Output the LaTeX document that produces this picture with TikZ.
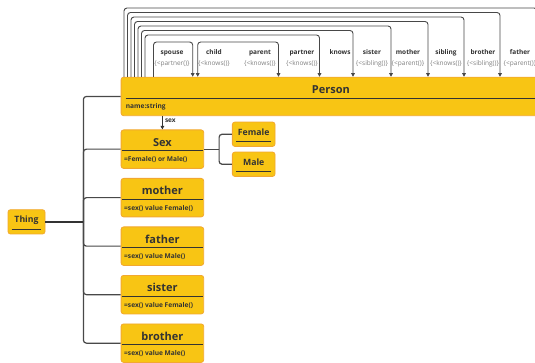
\documentclass[tikz,border=0pt]{standalone}
\usepackage{fontspec}
\setsansfont{Open Sans}
\usetikzlibrary{positioning,arrows.meta}

\definecolor{boxfill}{RGB}{248,197,20}
\definecolor{boxline}{RGB}{242,168,48}
\definecolor{ink}{RGB}{51,51,51}
\definecolor{wire}{RGB}{72,72,72}
\definecolor{subtxt}{RGB}{128,128,128}

\begin{document}
\begin{tikzpicture}[
  x=1pt, y=-1pt,
  font=\sffamily\bfseries, text=ink,
  >={Triangle[length=3.6pt,width=3.6pt]},
  cls/.style={draw=boxline, fill=boxfill, rounded corners=2.5pt, line width=0.8pt,
              minimum width=82.6pt, minimum height=38.5pt, anchor=north west,
              inner sep=0pt},
  ttl/.style={anchor=base, inner sep=0pt,
              font=\sffamily\bfseries\fontsize{11}{12}\selectfont},
  attr/.style={anchor=base west, inner sep=0pt,
               font=\sffamily\bfseries\fontsize{6.6}{7}\selectfont},
  sbox/.style={draw=boxline, fill=boxfill, rounded corners=2.5pt, line width=0.8pt,
               minimum width=42.7pt, anchor=north, inner xsep=0pt, inner ysep=5pt,
               text height=8.1pt, text depth=6.2pt,
               font=\sffamily\bfseries\fontsize{8.7}{10}\selectfont},
  sep/.style={draw=ink, line width=1pt},
  lp/.style={draw=wire, line width=0.9pt, rounded corners=3pt},
  lbl/.style={anchor=base, inner sep=0pt,
              font=\sffamily\bfseries\fontsize{6.5}{7}\selectfont},
  sub/.style={anchor=base, inner sep=0pt, text=subtxt,
              font=\sffamily\fontsize{6.5}{7}\selectfont},
  trunk/.style={draw=ink, line width=1.8pt, rounded corners=3pt},
  branch/.style={draw=wire, line width=1.2pt, rounded corners=3pt},
  arr/.style={->, draw=ink, line width=1.2pt},
]
\useasboundingbox (0,0) rectangle (535,363);
\clip (0,0) rectangle (535,363);
\fill[white] (0,0) rectangle (535,363);

% ---------- Person, with its self-relations on top ----------
\node[cls, minimum width=419.6pt] (person) at (120.7,76.8) {};
\node[ttl] (person-t) at ([yshift=-16.4pt]person.north) {Person};
\draw[sep] ([xshift=5pt,yshift=-21.5pt]person.north west) -- ([xshift=-1.5pt,yshift=-21.5pt]person.north east);
\node[attr] (person-a) at ([xshift=5pt,yshift=-31.5pt]person.north west) {name:string};

\draw[lp,->] ([xshift=3.3pt]person.north west) -- ++(0,-68.8) -| ([xshift=416.3pt]person.north west);
\draw[lp,->] ([xshift=6.8pt]person.north west) -- ++(0,-64.3) -| ([xshift=379.3pt]person.north west);
\draw[lp,->] ([xshift=10.3pt]person.north west) -- ++(0,-59.8) -| ([xshift=343.3pt]person.north west);
\draw[lp,->] ([xshift=13.8pt]person.north west) -- ++(0,-55.3) -| ([xshift=307.3pt]person.north west);
\draw[lp,->] ([xshift=17.3pt]person.north west) -- ++(0,-50.8) -| ([xshift=270.3pt]person.north west);
\draw[lp,->] ([xshift=20.8pt]person.north west) -- ++(0,-46.3) -| ([xshift=232.3pt]person.north west);
\draw[lp,->] ([xshift=24.3pt]person.north west) -- ++(0,-41.8) -| ([xshift=198.8pt]person.north west);
\draw[lp,->] ([xshift=32.8pt]person.north west) -- ++(0,-34.8) -| ([xshift=72pt]person.north west);
\draw[lp,<->] ([xshift=77pt]person.north west) -- ++(0,-34.8) -| ([xshift=157.8pt]person.north west);

% relation names
\node[lbl] (n-spouse) at (172,55) {spouse};   \node[sub] (s-spouse) at (172,65.2) {\{<partner()\}};
\node[lbl] (n-child) at (214,55) {child};     \node[sub] (s-child) at (214,65.2) {\{<knows()\}};
\node[lbl] (n-parent) at (260,55) {parent};   \node[sub] (s-parent) at (260,65.2) {\{<knows()\}};
\node[lbl] (n-partner) at (302,55) {partner}; \node[sub] (s-partner) at (302,65.2) {\{<knows()\}};
\node[lbl] (n-knows) at (340,55) {knows};
\node[lbl] (n-sister) at (372,55) {sister};   \node[sub] (s-sister) at (372,65.2) {\{<sibling()\}};
\node[lbl] (n-mother) at (408,55) {mother};   \node[sub] (s-mother) at (408,65.2) {\{<parent()\}};
\node[lbl] (n-sibling) at (446,55) {sibling}; \node[sub] (s-sibling) at (446,65.2) {\{<knows()\}};
\node[lbl] (n-brother) at (483,55) {brother}; \node[sub] (s-brother) at (483,65.2) {\{<sibling()\}};
\node[lbl] (n-father) at (520,55) {father};   \node[sub] (s-father) at (520,65.2) {\{<parent()\}};

% ---------- subclasses of Thing ----------
\node[cls] (sex) at (120.7,129.5) {};
\node[ttl] (sex-t) at ([yshift=-16.6pt]sex.north) {Sex};
\draw[sep] ([xshift=1.5pt,yshift=-21.4pt]sex.north west) -- ([xshift=-1.5pt,yshift=-21.4pt]sex.north east);
\node[attr] (sex-a) at ([xshift=3.3pt,yshift=-32.2pt]sex.north west) {=Female() or Male()};

\node[cls] (mother) at (120.7,178) {};
\node[ttl] (mother-t) at ([yshift=-16.6pt]mother.north) {mother};
\draw[sep] ([xshift=1.5pt,yshift=-21.4pt]mother.north west) -- ([xshift=-1.5pt,yshift=-21.4pt]mother.north east);
\node[attr] (mother-a) at ([xshift=3.3pt,yshift=-32.2pt]mother.north west) {=sex() value Female()};

\node[cls] (father) at (120.7,226.5) {};
\node[ttl] (father-t) at ([yshift=-16.6pt]father.north) {father};
\draw[sep] ([xshift=1.5pt,yshift=-21.4pt]father.north west) -- ([xshift=-1.5pt,yshift=-21.4pt]father.north east);
\node[attr] (father-a) at ([xshift=3.3pt,yshift=-32.2pt]father.north west) {=sex() value Male()};

\node[cls] (sister) at (120.7,275) {};
\node[ttl] (sister-t) at ([yshift=-16.6pt]sister.north) {sister};
\draw[sep] ([xshift=1.5pt,yshift=-21.4pt]sister.north west) -- ([xshift=-1.5pt,yshift=-21.4pt]sister.north east);
\node[attr] (sister-a) at ([xshift=3.3pt,yshift=-32.2pt]sister.north west) {=sex() value Female()};

\node[cls] (brother) at (120.7,323.5) {};
\node[ttl] (brother-t) at ([yshift=-16.6pt]brother.north) {brother};
\draw[sep] ([xshift=1.5pt,yshift=-21.4pt]brother.north west) -- ([xshift=-1.5pt,yshift=-21.4pt]brother.north east);
\node[attr] (brother-a) at ([xshift=3.3pt,yshift=-32.2pt]brother.north west) {=sex() value Male()};

% ---------- small classes ----------
\node[sbox, minimum width=37pt] (thing) at (26.5,209.3) {Thing};
\draw[sep] ([xshift=4pt,yshift=5.2pt]thing.south west) -- ([xshift=-4pt,yshift=5.2pt]thing.south east);
\node[sbox] (female) at (253.7,121.7) {Female};
\draw[sep] ([xshift=4pt,yshift=5.2pt]female.south west) -- ([xshift=-4pt,yshift=5.2pt]female.south east);
\node[sbox] (male) at (253.7,151.7) {Male};
\draw[sep] ([xshift=4pt,yshift=5.2pt]male.south west) -- ([xshift=-4pt,yshift=5.2pt]male.south east);

% ---------- connectors ----------
\draw[arr] (sex.north |- person.south) -- (sex.north)
      node[pos=0.35, right=2pt, lbl, anchor=west] {sex};

\coordinate (jn) at ([xshift=38pt]thing.east);
\draw[branch] (jn) |- (person.west);
\draw[branch] (jn) |- (sex.west);
\draw[branch] (jn) |- (mother.west);
\draw[branch] (jn) |- (father.west);
\draw[branch] (jn) |- (sister.west);
\draw[branch] (jn) |- (brother.west);
\draw[trunk] (thing.east) -- (jn);

\coordinate (jx) at ([xshift=15pt]sex.east);
\draw[branch] (sex.east) -- (jx);
\draw[branch] (jx) |- (female.west);
\draw[branch] (jx) |- (male.west);

\end{tikzpicture}
\end{document}
